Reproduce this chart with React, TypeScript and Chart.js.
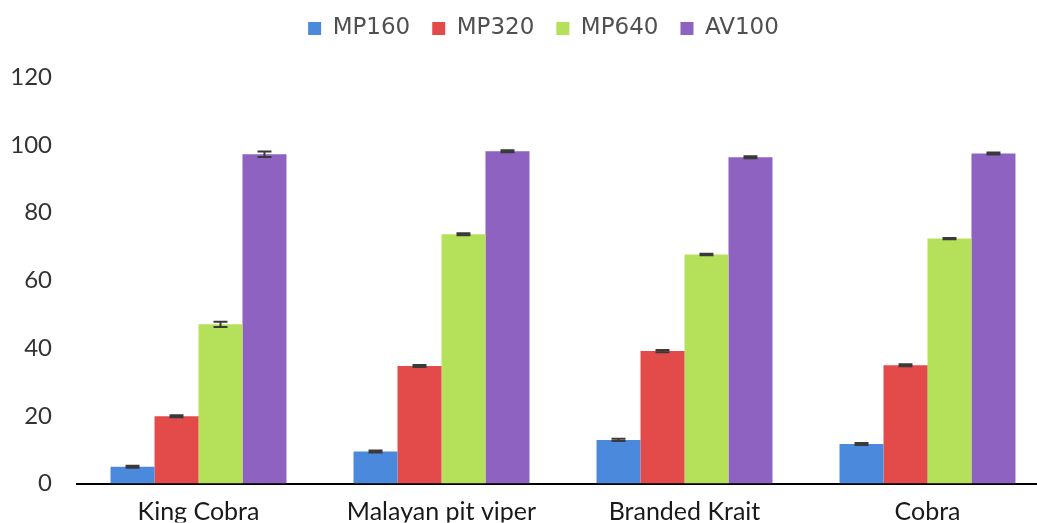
import React, { useEffect, useRef } from "react";
import { Chart, registerables } from "chart.js";

Chart.register(...registerables);

const categories = ["King Cobra", "Malayan pit viper", "Branded Krait", "Cobra"];
const seriesNames = ["MP160", "MP320", "MP640", "AV100"];
const mp160 = [5.0, 9.5, 12.9, 11.7];
const mp320 = [19.9, 34.7, 39.1, 34.9];
const mp640 = [47.0, 73.6, 67.6, 72.3];
const av100 = [97.2, 98.1, 96.3, 97.4];
const mp160Err = [0.3, 0.3, 0.3, 0.3];
const mp320Err = [0.3, 0.3, 0.3, 0.3];
const mp640Err = [0.8, 0.3, 0.2, 0.2];
const av100Err = [0.8, 0.3, 0.3, 0.3];
const yTicks = [0, 20, 40, 60, 80, 100, 120];

const colors = ["#4A89DC", "#E34B4A", "#B5E15A", "#8E62C0"];

const errorBarPlugin = {
  id: "errorBars",
  afterDatasetsDraw(chart: any) {
    const ctx = chart.ctx;
    const yScale = chart.scales.y;
    chart.data.datasets.forEach((ds: any, i: number) => {
      const meta = chart.getDatasetMeta(i);
      const errs = ds.errors || [];
      meta.data.forEach((bar: any, j: number) => {
        const v = ds.data[j];
        const e = errs[j] || 0;
        const yTop = yScale.getPixelForValue(v + e);
        const yBot = yScale.getPixelForValue(v - e);
        const x = bar.x;
        const cap = 7;
        ctx.save();
        ctx.strokeStyle = "#3a3a3a";
        ctx.lineWidth = 2;
        ctx.beginPath();
        ctx.moveTo(x, yTop);
        ctx.lineTo(x, yBot);
        ctx.moveTo(x - cap, yTop);
        ctx.lineTo(x + cap, yTop);
        ctx.moveTo(x - cap, yBot);
        ctx.lineTo(x + cap, yBot);
        ctx.stroke();
        ctx.restore();
      });
    });
  },
};

const legendShiftPlugin = {
  id: "legendShift",
  afterLayout(chart: any) {
    const lg = chart.legend;
    if (!lg) return;
    const dx = 19;
    const dy = -27;
    lg.left += dx;
    lg.right += dx;
    lg.top += dy;
    lg.bottom += dy;
  },
};

export default function App() {
  const ref = useRef<HTMLCanvasElement>(null);
  useEffect(() => {
    document.body.style.overflow = "hidden";
    document.documentElement.style.overflow = "hidden";
    const values = [mp160, mp320, mp640, av100];
    const errs = [mp160Err, mp320Err, mp640Err, av100Err];
    const chart = new Chart(ref.current as HTMLCanvasElement, {
      type: "bar",
      data: {
        labels: categories,
        datasets: seriesNames.map((name, i) => ({
          label: name,
          data: values[i],
          errors: errs[i],
          backgroundColor: colors[i],
          borderWidth: 0,
          barPercentage: 1,
          categoryPercentage: 0.724,
        })) as any,
      },
      options: {
        responsive: false,
        animation: false,
        devicePixelRatio: 1,
        layout: { padding: { left: 0, right: 3, top: 22, bottom: 0 } },
        plugins: {
          tooltip: { enabled: false },
          legend: {
            position: "top",
            labels: {
              boxWidth: 13,
              boxHeight: 13,
              padding: 22,
              color: "#505050",
              font: { family: "DejaVu Sans", size: 23 },
            },
          },
        },
        scales: {
          x: {
            grid: { display: false, drawTicks: false },
            border: { display: true, color: "#000", width: 2 },
            ticks: {
              color: "#1a1a1a",
              padding: 13,
              font: { family: "Lato", size: 25 },
              maxRotation: 0,
              autoSkip: false,
            },
            afterFit: (s: any) => {
              s.height = 39;
            },
          },
          y: {
            min: 0,
            max: 120,
            grid: { display: false, drawTicks: false },
            border: { display: false },
            afterBuildTicks: (s: any) => {
              s.ticks = yTicks.map((v) => ({ value: v }));
            },
            ticks: {
              color: "#333",
              padding: 25,
              font: { family: "Lato", size: 24 },
            },
            afterFit: (s: any) => {
              s.width = 77;
            },
          },
        },
      },
      plugins: [errorBarPlugin, legendShiftPlugin],
    });
    return () => chart.destroy();
  }, []);
  return (
    <div style={{ position: "absolute", left: 0, top: 0, width: 1052, height: 523, background: "#fff" }}>
      <canvas ref={ref} width={1052} height={523} />
    </div>
  );
}
